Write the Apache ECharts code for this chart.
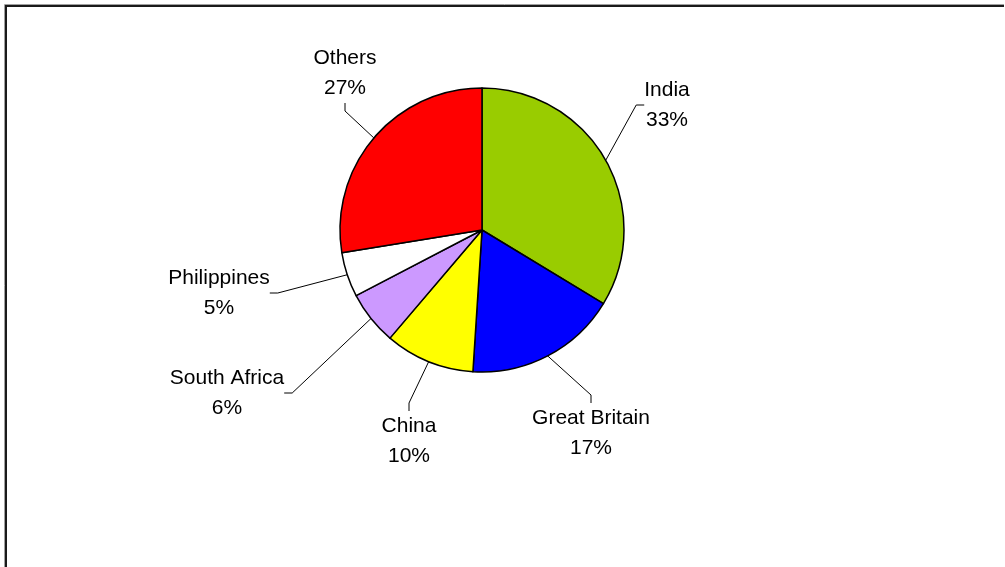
<!DOCTYPE html>
<html>
<head>
<meta charset="utf-8">
<script src="https://cdn.jsdelivr.net/npm/echarts@6/dist/echarts.min.js"></script>
<style>
  html, body { margin: 0; padding: 0; background: #fff; }
  #chart { width: 1005px; height: 567px; }
</style>
</head>
<body>
<div id="chart"></div>
<script>
// Share by country (percent)
const countries = ['India', 'Great Britain', 'China', 'South Africa', 'Philippines', 'Others'];
const shares = [33, 17, 10, 6, 5, 27];
const sliceColors = ['#99CC00', '#0000FF', '#FFFF00', '#CC99FF', '#FFFFFF', '#FF0000'];

// Where each two-line label block is centred, in pixels
const labelSpots = [
  [667, 105],
  [591, 433],
  [409, 441],
  [227, 393],
  [219, 293],
  [345, 73]
];

const chart = echarts.init(document.getElementById('chart'), null, { renderer: 'canvas' });

chart.setOption({
  backgroundColor: '#ffffff',
  animation: false,
  graphic: [
    // chart-area frame: left and top edges
    { type: 'polyline', silent: true,
      shape: { points: [[4.5, 567], [4.5, 4.5], [1004, 4.5]] },
      style: { stroke: '#a0a0a0', lineWidth: 1, fill: null } },
    { type: 'polyline', silent: true,
      shape: { points: [[6, 567], [6, 6], [1004, 6]] },
      style: { stroke: '#1a1a1a', lineWidth: 2, fill: null } }
  ],
  series: [{
    type: 'pie',
    center: [482, 230],
    radius: 142,
    startAngle: 90,
    clockwise: true,
    silent: true,
    data: countries.map((name, i) => ({
      name: name,
      value: shares[i],
      itemStyle: { color: sliceColors[i] }
    })),
    itemStyle: { borderColor: '#000000', borderWidth: 1.5 },
    label: {
      show: true,
      position: 'outside',
      formatter: '{b}\n{c}%',
      fontFamily: 'Liberation Sans, Arial, sans-serif',
      fontSize: 21,
      lineHeight: 30,
      color: '#000000',
      align: 'center'
    },
    labelLine: {
      show: true,
      length: 10,
      length2: 8,
      minTurnAngle: 60,
      lineStyle: { color: '#000000', width: 1 }
    },
    labelLayout: function (params) {
      const p = labelSpots[params.dataIndex];
      return { x: p[0], y: p[1], align: 'center', verticalAlign: 'middle', moveOverlap: false };
    }
  }]
});
</script>
</body>
</html>
